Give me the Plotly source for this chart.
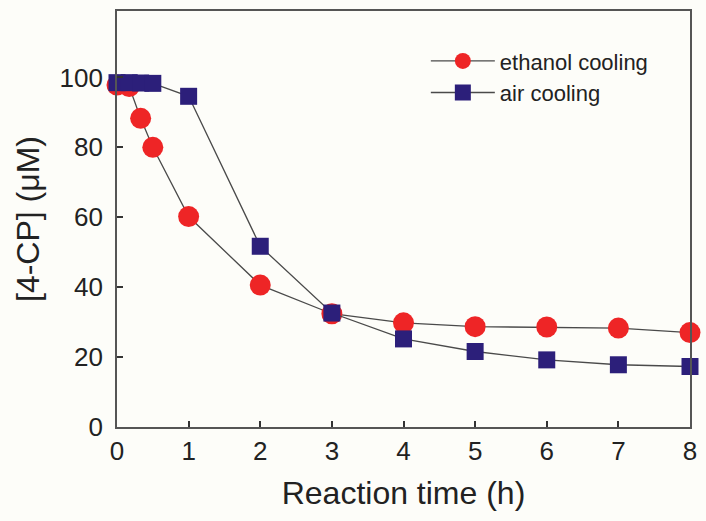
import plotly.graph_objects as go

# Reaction time (h)
time_ethanol = [0, 0.17, 0.33, 0.5, 1, 2, 3, 4, 5, 6, 7, 8]
conc_ethanol = [97.8, 97.4, 88.3, 80.0, 60.2, 40.6, 32.4, 29.8, 28.7, 28.6, 28.3, 27.0]

time_air = [0, 0.17, 0.33, 0.5, 1, 2, 3, 4, 5, 6, 7, 8]
conc_air = [98.5, 98.5, 98.4, 98.3, 94.6, 51.7, 32.6, 25.2, 21.6, 19.2, 17.8, 17.3]

x_ticks = [0, 1, 2, 3, 4, 5, 6, 7, 8]
y_ticks = [0, 20, 40, 60, 80, 100]

FONT = "Liberation Sans, Arial, sans-serif"
LINE = "#4a4a4a"
BG = "#fdfdf9"

fig = go.Figure()
fig.add_trace(go.Scatter(
    x=time_ethanol, y=conc_ethanol, name="ethanol cooling",
    mode="lines+markers", cliponaxis=False,
    line=dict(color=LINE, width=1.3),
    marker=dict(symbol="circle", size=21, color="#ee2526", line=dict(width=0)),
))
fig.add_trace(go.Scatter(
    x=time_air, y=conc_air, name="air cooling",
    mode="lines+markers", cliponaxis=False,
    line=dict(color=LINE, width=1.3),
    marker=dict(symbol="square", size=17, color="#2c1f7a", line=dict(width=0)),
))

axis_common = dict(
    showline=True, linecolor="#555555", linewidth=1.6, mirror=True,
    ticks="inside", ticklen=6, tickwidth=1.6, tickcolor="#333333",
    showgrid=False, zeroline=False,
    tickfont=dict(family=FONT, size=26, color="#222222"),
)

fig.update_layout(
    width=706, height=521,
    margin=dict(l=117, r=9, t=9, b=94),
    paper_bgcolor=BG, plot_bgcolor=BG,
    font=dict(family=FONT, color="#222222"),
    xaxis=dict(range=[0, 8], tickvals=x_ticks,
               title=dict(text="Reaction time (h)", font=dict(size=32), standoff=17),
               **axis_common),
    yaxis=dict(range=[0, 119], tickvals=y_ticks, ticklabelstandoff=7,
               title=dict(text="[4-CP] (\u03bcM)", font=dict(size=32), standoff=10),
               **axis_common),
    showlegend=True,
    legend=dict(x=0.539, y=0.93, xanchor="left", yanchor="top",
                bgcolor="rgba(0,0,0,0)", font=dict(family=FONT, size=22),
                itemwidth=64, tracegroupgap=0),
)

fig.write_html("out.html")
